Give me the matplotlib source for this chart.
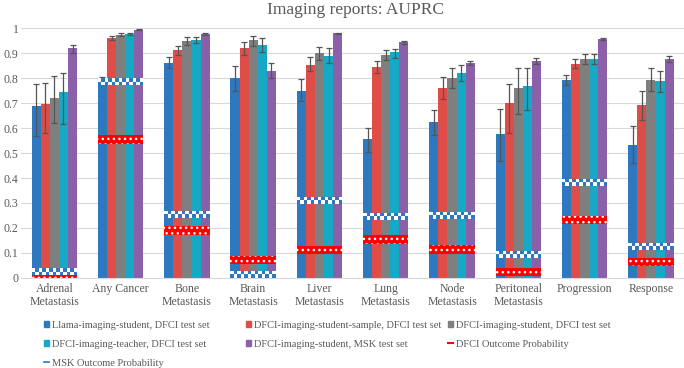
import numpy as np
import matplotlib.pyplot as plt
from matplotlib.patches import Rectangle, Patch
from matplotlib.lines import Line2D

# Категории
categories = ['Adrenal\nMetastasis', 'Any Cancer', 'Bone\nMetastasis', 'Brain\nMetastasis',
              'Liver\nMetastasis', 'Lung\nMetastasis', 'Node\nMetastasis', 'Peritoneal\nMetastasis',
              'Progression', 'Response']

series_names = ['Llama-imaging-student, DFCI test set',
                'DFCI-imaging-student-sample, DFCI test set',
                'DFCI-imaging-student, DFCI test set',
                'DFCI-imaging-teacher, DFCI test set',
                'DFCI-imaging-student, MSK test set']
colors = ['#2E78C0', '#DE4D48', '#7F7F7F', '#17A8C6', '#8A60A8']

# Значения AUPRC
llama = [0.69, 0.78, 0.86, 0.80, 0.75, 0.556, 0.626, 0.578, 0.792, 0.533]
sample = [0.695, 0.962, 0.913, 0.92, 0.855, 0.846, 0.762, 0.70, 0.858, 0.693]
student = [0.72, 0.975, 0.95, 0.952, 0.902, 0.893, 0.80, 0.762, 0.877, 0.793]
teacher = [0.745, 0.977, 0.955, 0.935, 0.888, 0.906, 0.822, 0.770, 0.877, 0.789]
msk = [0.92, 0.995, 0.977, 0.83, 0.98, 0.944, 0.862, 0.870, 0.956, 0.877]

# Доверительные интервалы (нижняя, верхняя граница)
llama_lo = [0.57, 0.775, 0.84, 0.75, 0.71, 0.506, 0.573, 0.47, 0.772, 0.46]
llama_hi = [0.775, 0.805, 0.885, 0.85, 0.795, 0.60, 0.673, 0.676, 0.812, 0.607]
sample_lo = [0.58, 0.955, 0.895, 0.895, 0.83, 0.822, 0.716, 0.58, 0.84, 0.633]
sample_hi = [0.78, 0.968, 0.93, 0.945, 0.885, 0.870, 0.804, 0.776, 0.876, 0.749]
student_lo = [0.62, 0.97, 0.935, 0.93, 0.875, 0.873, 0.76, 0.656, 0.857, 0.75]
student_hi = [0.81, 0.98, 0.965, 0.968, 0.925, 0.913, 0.84, 0.84, 0.897, 0.84]
teacher_lo = [0.615, 0.972, 0.94, 0.905, 0.86, 0.881, 0.79, 0.673, 0.857, 0.746]
teacher_hi = [0.82, 0.982, 0.967, 0.962, 0.92, 0.917, 0.852, 0.84, 0.897, 0.83]
msk_lo = [0.90, 0.993, 0.973, 0.80, 0.977, 0.939, 0.855, 0.858, 0.952, 0.866]
msk_hi = [0.935, 0.997, 0.981, 0.86, 0.983, 0.948, 0.868, 0.882, 0.960, 0.888]

# Вероятности исходов
dfci_outcome = [0.004, 0.555, 0.19, 0.072, 0.112, 0.154, 0.113, 0.024, 0.231, 0.063]
msk_outcome = [0.024, 0.786, 0.254, 0.015, 0.31, 0.247, 0.251, 0.094, 0.384, 0.127]

values = [llama, sample, student, teacher, msk]
lows = [llama_lo, sample_lo, student_lo, teacher_lo, msk_lo]
highs = [llama_hi, sample_hi, student_hi, teacher_hi, msk_hi]

plt.rcParams['font.family'] = ['Liberation Serif', 'DejaVu Serif']
text_color = '#595959'

fig = plt.figure(figsize=(6.84, 3.68), dpi=100)
ax = fig.add_axes([0.031, 0.245, 0.969, 0.678])

x = np.arange(len(categories))
group_w = 0.686
bw = group_w / 5

for i, (vals, lo, hi, c) in enumerate(zip(values, lows, highs, colors)):
    pos = x - group_w / 2 + bw * (i + 0.5)
    v = np.array(vals)
    yerr = [v - np.array(lo), np.array(hi) - v]
    ax.bar(pos, v, bw, color=c, zorder=2)
    ax.errorbar(pos, v, yerr=yerr, fmt='none', ecolor='#555555', elinewidth=0.9,
                capsize=2.4, capthick=0.9, zorder=3)

# DFCI Outcome Probability - красная полоса с белыми точками
h_dfci = 0.034
ax.bar(x, h_dfci, group_w, bottom=np.array(dfci_outcome) - h_dfci / 2,
       color='#FF0000', edgecolor='white', linewidth=0, hatch='...', zorder=4)

# MSK Outcome Probability - шахматка
h_msk = 0.028
ncol = 13
sq = group_w / ncol
for xc, v in zip(x, msk_outcome):
    x0 = xc - group_w / 2
    y0 = v - h_msk / 2
    ax.add_patch(Rectangle((x0, y0), group_w, h_msk, facecolor='white', lw=0, zorder=5))
    for r in range(2):
        for k in range(ncol):
            if (k + r) % 2 == 0:
                ax.add_patch(Rectangle((x0 + k * sq, y0 + r * h_msk / 2), sq, h_msk / 2,
                                       facecolor='#2E78C0', lw=0, zorder=5))

ax.set_ylim(0, 1)
ax.set_xlim(-0.5, len(categories) - 0.5)
ax.set_yticks(np.arange(0, 1.01, 0.1))
ax.set_yticklabels(['0', '0.1', '0.2', '0.3', '0.4', '0.5', '0.6', '0.7', '0.8', '0.9', '1'])
ax.set_xticks(x)
ax.set_xticklabels(categories, fontsize=8.5, color=text_color, linespacing=1.1)
ax.tick_params(axis='y', labelsize=8.5, labelcolor=text_color, length=0, pad=2)
ax.tick_params(axis='x', length=0, pad=4)
ax.grid(axis='y', color='#D9D9D9', linewidth=0.8, zorder=0)
ax.set_axisbelow(True)
for s in ['top', 'right', 'left']:
    ax.spines[s].set_visible(False)
ax.spines['bottom'].set_color('#D9D9D9')

fig.suptitle('Imaging reports: AUPRC', x=0.52, y=0.995, fontsize=12.5, color=text_color)

# Легенда: три колонки, построчный порядок
handles = [Patch(color=c) for c in colors]
handles += [Line2D([], [], color='#FF0000', lw=1.5),
            Line2D([], [], color='#2E78C0', lw=1.2)]
labels = series_names + ['DFCI Outcome Probability', 'MSK Outcome Probability']
col_x = [0.064, 0.360, 0.655]
for j, cx in enumerate(col_x):
    idx = list(range(j, len(labels), 3))
    leg = fig.legend([handles[k] for k in idx], [labels[k] for k in idx],
                     loc='upper left', bbox_to_anchor=(cx, 0.128), frameon=False,
                     fontsize=7.5, handlelength=0.5, handleheight=0.5,
                     handletextpad=0.25, labelspacing=0.95, borderaxespad=0, borderpad=0)
    for t in leg.get_texts():
        t.set_color(text_color)

fig.savefig('out.png', dpi=100)
